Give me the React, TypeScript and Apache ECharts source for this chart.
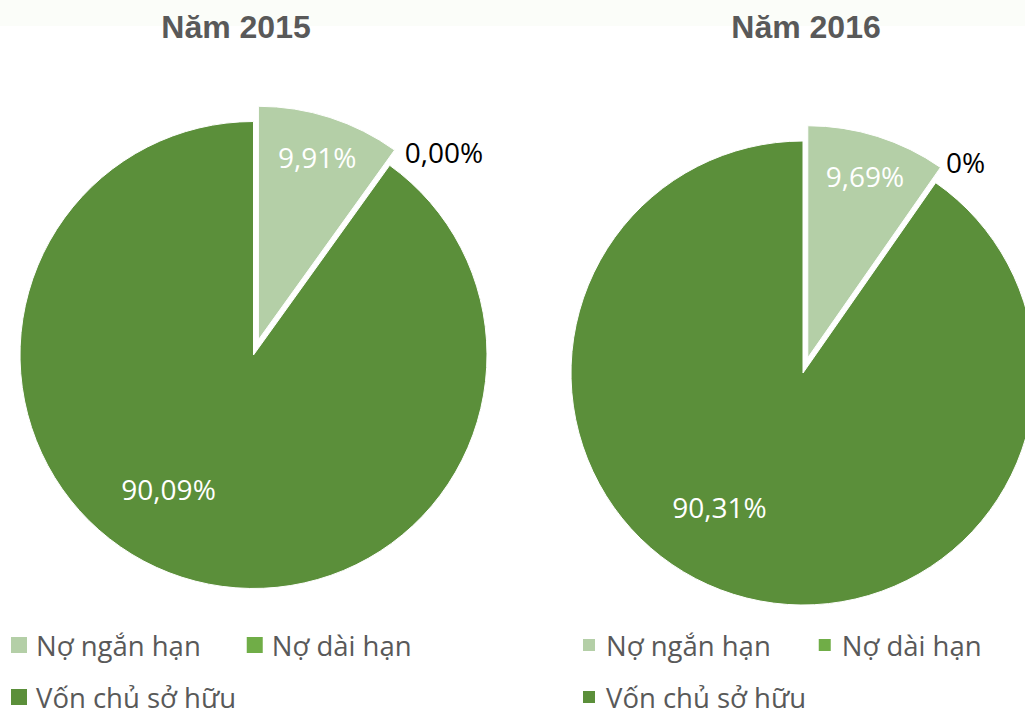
import React, { useEffect, useRef } from "react";
import * as echarts from "echarts";

const categories = ["Nợ ngắn hạn", "Nợ dài hạn", "Vốn chủ sở hữu"];
const years = ["Năm 2015", "Năm 2016"];
const share2015 = [9.91, 0, 90.09];
const share2016 = [9.69, 0, 90.31];
const zeroLabels = ["0,00%", "0%"];
const colors = ["#b4cfa7", "#70ad47", "#5b8f3a"];

const FONT = "'Open Sans', 'Noto Sans', sans-serif";
const OFFSET = 16;

const pies = [
  { values: share2015, center: [253.5, 355], r: 233.5, zero: zeroLabels[0], zeroAdj: 1.0, zeroR: 1.085 },
  { values: share2016, center: [803, 373], r: 232, zero: zeroLabels[1], zeroAdj: -0.8, zeroR: 1.1 },
];

function fmt(v: number, zero: string) {
  if (v === 0) return zero;
  return v.toFixed(2).replace(".", ",") + "%";
}

function angles(values: number[], idx: number) {
  const total = values.reduce((a, b) => a + b, 0);
  let start = 0;
  for (let i = 0; i < idx; i++) start += values[i];
  const s = (start / total) * 360;
  const e = s + (values[idx] / total) * 360;
  return { s, e, m: (s + e) / 2 };
}

function polar(cx: number, cy: number, r: number, deg: number) {
  const a = (deg * Math.PI) / 180;
  return [cx + r * Math.sin(a), cy - r * Math.cos(a)];
}

const labelBase = { fontSize: 28, fontFamily: FONT, lineHeight: 30 };

export default function App() {
  const ref = useRef<HTMLDivElement>(null);
  useEffect(() => {
    if (!ref.current) return;
    const chart = echarts.init(ref.current, undefined, { renderer: "svg" });

    const mainSeries = pies.map((p) => ({
      type: "pie",
      center: p.center,
      radius: p.r,
      startAngle: 90,
      clockwise: true,
      selectedMode: "single",
      selectedOffset: OFFSET,
      silent: true,
      avoidLabelOverlap: false,
      labelLine: { show: false },
      itemStyle: { borderColor: "#ffffff", borderWidth: 1 },
      emphasis: { disabled: true },
      data: categories.map((name, i) => ({
        name,
        value: p.values[i],
        selected: i === 0,
        itemStyle: { color: colors[i] },
        label: {
          ...labelBase,
          show: i !== 0,
          position: i === 1 ? "outside" : "inside",
          formatter: fmt(p.values[i], p.zero),
          color: i === 1 ? "#000000" : "#ffffff",
        },
      })),
      labelLayout: (params: any) => {
        const idx = params.dataIndex;
        const { s, m } = angles(p.values, idx);
        const [cx, cy] = p.center;
        if (idx === 1) {
          const [x, y] = polar(cx, cy, p.r * p.zeroR, s + p.zeroAdj);
          return { x, y, align: "left", verticalAlign: "middle" };
        }
        if (idx === 2) {
          const [x, y] = polar(cx, cy, p.r * 0.68, m + 14.5);
          return { x, y, align: "center", verticalAlign: "middle" };
        }
        return {};
      },
    }));

    // transparent ring that carries the exploded slice's label at 0.81 r
    const labelSeries = pies.map((p) => ({
      type: "pie",
      center: p.center,
      radius: [p.r * 0.62, p.r],
      startAngle: 90,
      clockwise: true,
      selectedMode: "single",
      selectedOffset: OFFSET,
      silent: true,
      avoidLabelOverlap: false,
      labelLine: { show: false },
      emphasis: { disabled: true },
      legendHoverLink: false,
      data: categories.map((name, i) => ({
        name,
        value: p.values[i],
        selected: i === 0,
        itemStyle: { color: "rgba(0,0,0,0)", borderWidth: 0 },
        label: {
          ...labelBase,
          show: i === 0,
          position: "inside",
          formatter: fmt(p.values[i], p.zero),
          color: "#ffffff",
        },
      })),
    }));

    const legendText = {
      fontSize: 27.5,
      fontFamily: FONT,
      color: "#595959",
      lineHeight: 30,
    };
    const legendText2 = { ...legendText, lineHeight: 24 };
    const titleStyle = {
      fontSize: 32,
      fontWeight: "bold",
      color: "#595959",
      fontFamily: "'Liberation Sans', Arial, sans-serif",
    };

    const option: any = {
      animation: false,
      backgroundColor: "#ffffff",
      graphic: [
        {
          type: "rect",
          shape: { x: 0, y: 0, width: 1025, height: 26 },
          style: { fill: "#fbfdf9" },
          silent: true,
          z: -10,
        },
      ],
      title: [
        { text: years[0], left: 231, top: 6, textAlign: "center", textStyle: titleStyle },
        { text: years[1], left: 801, top: 6, textAlign: "center", textStyle: titleStyle },
      ],
      legend: [
        {
          left: 9, top: 630, padding: 0, orient: "horizontal", icon: "rect",
          itemWidth: 18, itemHeight: 18, itemGap: 44, selectedMode: false,
          data: [categories[0], categories[1]],
          textStyle: { ...legendText, padding: [0, 0, 0, 3] },
        },
        {
          left: 9, top: 683, padding: 0, orient: "horizontal", icon: "rect",
          itemWidth: 18, itemHeight: 18, selectedMode: false,
          data: [categories[2]],
          textStyle: { ...legendText2, padding: [0, 0, 0, 3] },
        },
        {
          left: 581, top: 630, padding: 0, orient: "horizontal", icon: "rect",
          itemWidth: 14, itemHeight: 14, itemGap: 46, selectedMode: false,
          data: [categories[0], categories[1]],
          textStyle: { ...legendText, padding: [0, 0, 0, 5] },
        },
        {
          left: 581, top: 683, padding: 0, orient: "horizontal", icon: "rect",
          itemWidth: 14, itemHeight: 14, selectedMode: false,
          data: [categories[2]],
          textStyle: { ...legendText2, padding: [0, 0, 0, 5] },
        },
      ],
      series: [...mainSeries, ...labelSeries],
    };
    chart.setOption(option);
    return () => chart.dispose();
  }, []);

  return (
    <div
      ref={ref}
      style={{ position: "fixed", left: 0, top: 0, width: 1025, height: 710 }}
    />
  );
}
